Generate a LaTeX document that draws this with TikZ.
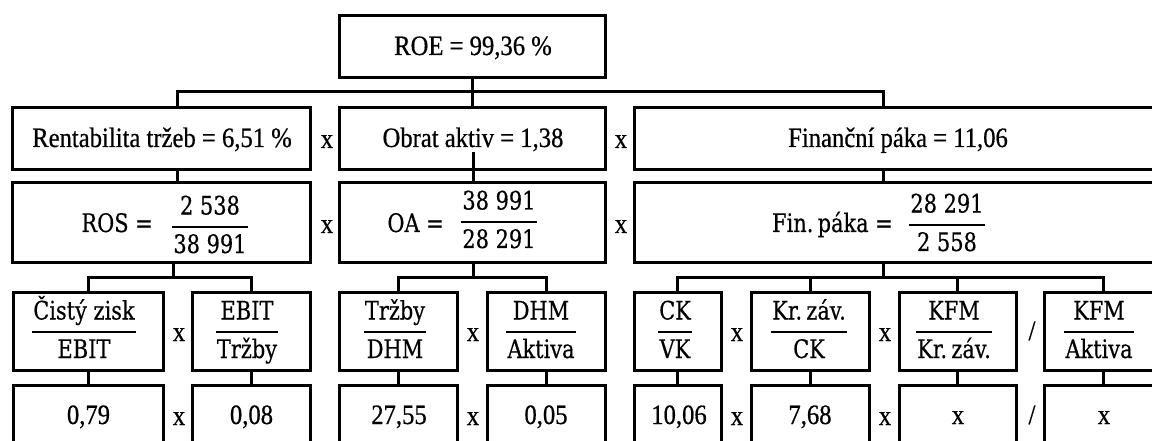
\documentclass[tikz,border=0pt]{standalone}
\usepackage{fontspec}
\setmainfont{Liberation Serif}[FakeStretch=0.88, FakeBold=0.6]
\newfontfamily\cmbfont{DejaVu Serif}[FakeStretch=0.82, FakeBold=0.4]

% text styles: narrow Times-like labels and the heavier serif used for ratios
\newcommand\tmsize{\fontsize{28pt}{32pt}\selectfont}
\newcommand\cbsize{\cmbfont\fontsize{25.5pt}{30pt}\selectfont}

% a fraction whose reference point is the fraction bar
\newdimen\fracw
\newcommand\fracbox[2]{%
  \setbox0=\hbox{#1}\setbox2=\hbox{#2}%
  \fracw=\wd0 \ifdim\wd2>\fracw \fracw=\wd2 \fi
  \advance\fracw by 2pt
  \rlap{\makebox[\fracw]{\raisebox{12.5pt}{\box0}}}%
  \rlap{\rule[-0.7pt]{\fracw}{1.4pt}}%
  \makebox[\fracw]{\raisebox{-26pt}{\box2}}}

\tikzset{
  cell/.style={draw, line width=3pt, inner sep=0pt},
  wire/.style={line width=3pt},
  tm/.style={inner sep=0pt, anchor=base, font=\tmsize},
  cb/.style={inner sep=0pt, anchor=base, font=\cbsize},
}

\begin{document}
\begin{tikzpicture}[x=1pt, y=-1pt]
\useasboundingbox (0,0) rectangle (1152,441);
\clip (0,0) rectangle (1152,441);

% ---------- level 1 ----------
\node[cell, minimum width=266pt, minimum height=62pt] (roe) at (472,47) {};
\node[tm] (roeT) at (473,55) {ROE = 99,36 \%};

% ---------- level 2 ----------
\node[cell, minimum width=298pt, minimum height=62pt] (rt) at (161,139) {};
\node[cell, minimum width=266pt, minimum height=62pt] (oa) at (472,139) {};
\node[cell, minimum width=528pt, minimum height=62pt] (fp) at (898,139) {};
\node[tm] (rtT) at (162,147) {Rentabilita tržeb = 6,51 \%};
\node[tm] (oaT) at (473,147) {Obrat aktiv = 1,38};
\node[tm] (fpT) at (898,147) {Finanční páka = 11,06};
\node[tm] (m21) at (327,148) {x};
\node[tm] (m22) at (621,148) {x};

% ---------- level 3 ----------
\node[cell, minimum width=298pt, minimum height=79pt] (ros) at (161,222.5) {};
\node[cell, minimum width=266pt, minimum height=79pt] (oa3) at (472,222.5) {};
\node[cell, minimum width=528pt, minimum height=79pt] (fp3) at (898,222.5) {};
\node[cb, anchor=base east] (rosL) at (153,232) {ROS =};
\node[cb] (rosF) at (210,227) {\fracbox{2 538}{38 991}};
\node[cb, anchor=base east] (oaL) at (444,232) {OA =};
\node[cb] (oaF) at (499,222) {\fracbox{38 991}{28 291}};
\node[cb, anchor=base east] (fpL) at (893,232) {Fin.\,páka =};
\node[cb] (fpF) at (947,225) {\fracbox{28 291}{2 558}};
\node[tm] (m31) at (327,233) {x};
\node[tm] (m32) at (621,233) {x};

% ---------- level 4 ----------
\node[cell, minimum width=150pt, minimum height=78pt] (b1) at (88,331) {};
\node[cell, minimum width=118pt, minimum height=78pt] (b2) at (251,331) {};
\node[cell, minimum width=118pt, minimum height=78pt] (b3) at (398,331) {};
\node[cell, minimum width=118pt, minimum height=78pt] (b4) at (546,331) {};
\node[cell, minimum width=87pt,  minimum height=78pt] (b5) at (677.5,331) {};
\node[cell, minimum width=118pt, minimum height=78pt] (b6) at (810,331) {};
\node[cell, minimum width=117pt, minimum height=78pt] (b7) at (957.5,331) {};
\node[cell, minimum width=118pt, minimum height=78pt] (b8) at (1103,331) {};
\node[cb] (f1) at (84,332)   {\fracbox{Čistý zisk}{EBIT}};
\node[cb] (f2) at (247,332)  {\fracbox{EBIT}{Tržby}};
\node[cb] (f3) at (395,332)  {\fracbox{Tržby}{DHM}};
\node[cb] (f4) at (541,332)  {\fracbox{DHM}{Aktiva}};
\node[cb] (f5) at (675,332)  {\fracbox{CK}{VK}};
\node[cb] (f6) at (809,332)  {\fracbox{Kr.\,záv.}{CK}};
\node[cb] (f7) at (954,332)  {\fracbox{KFM}{Kr.\,záv.}};
\node[cb] (f8) at (1099,332) {\fracbox{KFM}{Aktiva}};
\node[tm] (m41) at (179,341) {x};
\node[tm] (m42) at (473,341) {x};
\node[tm] (m43) at (737,341) {x};
\node[tm] (m44) at (885,341) {x};
\node[tm] (m45) at (1032,340) {/};

% ---------- level 5 ----------
\node[cell, minimum width=150pt, minimum height=80pt] (v1) at (88,425) {};
\node[cell, minimum width=118pt, minimum height=80pt] (v2) at (251,425) {};
\node[cell, minimum width=118pt, minimum height=80pt] (v3) at (398,425) {};
\node[cell, minimum width=118pt, minimum height=80pt] (v4) at (546,425) {};
\node[cell, minimum width=87pt,  minimum height=80pt] (v5) at (677.5,425) {};
\node[cell, minimum width=118pt, minimum height=80pt] (v6) at (810,425) {};
\node[cell, minimum width=117pt, minimum height=80pt] (v7) at (957.5,425) {};
\node[cell, minimum width=118pt, minimum height=80pt] (v8) at (1103,425) {};
\node[tm] (n1) at (88.5,424) {0,79};
\node[tm] (n2) at (251.5,424) {0,08};
\node[tm] (n3) at (399,424) {27,55};
\node[tm] (n4) at (546,424) {0,05};
\node[tm] (n5) at (679,424) {10,06};
\node[tm] (n6) at (810,424) {7,68};
\node[tm] (n7) at (958,424) {x};
\node[tm] (n8) at (1104,424) {x};
\node[tm] (m51) at (179,425) {x};
\node[tm] (m52) at (473,425) {x};
\node[tm] (m53) at (737,425) {x};
\node[tm] (m54) at (885,425) {x};
\node[tm] (m55) at (1032,424) {/};

% ---------- connectors ----------
\coordinate (rtIn) at (177,108);
\coordinate (fpIn) at (883,108);
\coordinate (topBus) at (473,92);
\draw[wire] (roe.south) -- (oa.north);
\draw[wire] (rtIn) |- (topBus) -| (fpIn);

\draw[wire] (rtIn |- rt.south) -- (rtIn |- ros.north);
\coordinate (oaSt) at (473,152);
\draw[wire] (oaSt) -- (oaSt |- oa3.north);
\draw[wire] (fpIn |- fp.south) -- (fpIn |- fp3.north);

\coordinate (rosBus) at (173,277);
\coordinate (oaBus) at (473,277);
\coordinate (fpBus) at (883,277);
\draw[wire] (rosBus |- ros.south) -- (rosBus);
\draw[wire] (b1.north) |- (rosBus) -| (b2.north);
\draw[wire] (oaBus |- oa3.south) -- (oaBus);
\draw[wire] (b3.north) |- (oaBus) -| (b4.north);
\draw[wire] (fpBus |- fp3.south) -- (fpBus);
\draw[wire] (b5.north) |- (fpBus) -| (b8.north);
\draw[wire] (b6.north) -- (b6.north |- fpBus);
\draw[wire] (b7.north) -- (b7.north |- fpBus);

\foreach \k in {1,...,8} {
  \draw[wire] (b\k.south) -- (v\k.north);
}
\end{tikzpicture}
\end{document}
